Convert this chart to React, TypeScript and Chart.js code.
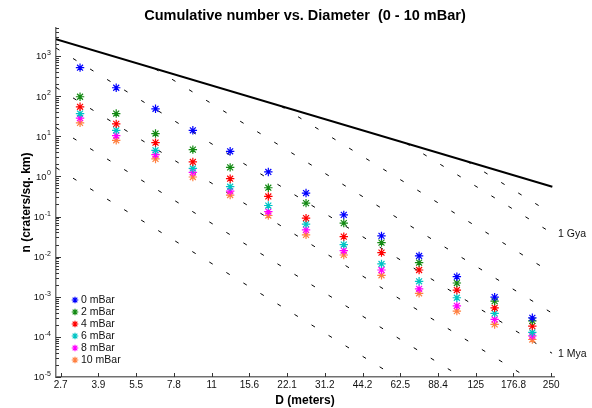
import { useEffect, useRef } from 'react';
import { Chart, registerables } from 'chart.js';

Chart.register(...registerables);

const FONT = '"Liberation Sans", Arial, Helvetica, sans-serif';

// ---- data ----
const diameters = [3.3, 4.6, 6.6, 9.3, 13.1, 18.6, 26.3, 37.2, 52.6, 74.3, 105.1, 148.7, 210.2];

const seriesLabels = ['0 mBar', '2 mBar', '4 mBar', '6 mBar', '8 mBar', '10 mBar'];
const seriesColors = ['#0000ff', '#138a13', '#ff0000', '#00c4c4', '#ff00ff', '#ff8040'];

const n0mBar = [513, 162, 48.4, 14.1, 4.22, 1.29, 0.385, 0.11, 0.0329, 0.0104, 0.00316, 0.00098, 0.000299];
const n2mBar = [96.6, 36.9, 11.7, 4.65, 1.68, 0.522, 0.216, 0.0684, 0.0224, 0.00708, 0.0022, 0.00078, 0.000251];
const n4mBar = [54.3, 20.4, 6.96, 2.29, 0.876, 0.316, 0.0912, 0.0316, 0.0126, 0.00465, 0.00147, 0.000531, 0.000185];
const n6mBar = [36.9, 14.1, 4.47, 1.58, 0.553, 0.188, 0.0646, 0.02, 0.00657, 0.00243, 0.000944, 0.000385, 0.000129];
const n8mBar = [28.2, 10.4, 3.49, 1.26, 0.431, 0.133, 0.0465, 0.0141, 0.00465, 0.00158, 0.000596, 0.000272, 0.000106];
const n10mBar = [21.6, 7.94, 2.72, 0.966, 0.343, 0.106, 0.0349, 0.011, 0.00343, 0.00122, 0.000439, 0.000204, 0.0000861];
const seriesValues = [n0mBar, n2mBar, n4mBar, n6mBar, n8mBar, n10mBar];

// saturation equilibrium (solid black line)
const saturationD = [2.646, 252.6];
const saturationN = [2615, 0.553];

// isochrons (dashed black lines)
const isochronLabels = ['', '1 Gya', '', '', '1 Mya', '', '', ''];
const isochronStartD = [115.5, 66.0, 20.9, 6.57, 2.646, 2.646, 2.646, 2.646];
const isochronStartN = [2.36, 6.65, 56.1, 481, 1585, 165, 16.5, 1.65];
const isochronEndD = [252, 252, 252, 252, 252, 252, 252, 252];
const isochronEndN = [0.1168, 0.0385, 0.00391, 0.000391, 0.0000391, 0.00000407, 0.000000407, 0.0000000407];

// axes
const xTickValues = [2.762, 3.906, 5.524, 7.813, 11.05, 15.63, 22.1, 31.25, 44.19, 62.5, 88.39, 125, 176.78, 250];
const xTickLabels = ['2.7', '3.9', '5.5', '7.8', '11', '15.6', '22.1', '31.2', '44.2', '62.5', '88.4', '125', '176.8', '250'];
const yDecades = [-5, -4, -3, -2, -1, 0, 1, 2, 3];
const xMin = 2.646;
const xMax = 256.5;
const yMin = 1e-5;
const yMax = 5000;

function drawStar(ctx: CanvasRenderingContext2D, x: number, y: number, r: number, color: string, lw: number) {
  ctx.save();
  ctx.strokeStyle = color;
  ctx.lineWidth = lw;
  ctx.beginPath();
  for (let k = 0; k < 4; k++) {
    const a = (k * Math.PI) / 4;
    ctx.moveTo(x - r * Math.cos(a), y - r * Math.sin(a));
    ctx.lineTo(x + r * Math.cos(a), y + r * Math.sin(a));
  }
  ctx.stroke();
  ctx.restore();
}

const decorPlugin = {
  id: 'decor',
  afterDraw(chart: any) {
    const ctx: CanvasRenderingContext2D = chart.ctx;
    const ca = chart.chartArea;
    const xs = chart.scales.x;
    const ys = chart.scales.y;
    ctx.save();
    // x ticks (inward)
    ctx.strokeStyle = '#333';
    ctx.lineWidth = 1;
    ctx.beginPath();
    xTickValues.forEach((v) => {
      const px = Math.round(xs.getPixelForValue(v)) + 0.5;
      ctx.moveTo(px, ca.bottom);
      ctx.lineTo(px, ca.bottom - 4);
    });
    // y ticks (inward, with minor)
    yDecades.forEach((d) => {
      for (let m = 1; m <= 9; m++) {
        const v = m * Math.pow(10, d);
        if (v > yMax) break;
        const py = Math.round(ys.getPixelForValue(v)) + 0.5;
        ctx.moveTo(ca.left, py);
        ctx.lineTo(ca.left + (m === 1 ? 5 : 3), py);
      }
    });
    ctx.stroke();

    // y labels with superscript exponents
    ctx.fillStyle = '#111';
    ctx.textBaseline = 'alphabetic';
    ctx.textAlign = 'left';
    yDecades.forEach((d) => {
      const py = ys.getPixelForValue(Math.pow(10, d));
      const exp = String(d);
      ctx.font = `7px ${FONT}`;
      const we = ctx.measureText(exp).width;
      ctx.font = `9.5px ${FONT}`;
      const wb = ctx.measureText('10').width;
      const right = ca.left - 5;
      const xb = right - we - wb - 0.5;
      ctx.fillText('10', xb, py + 3.4);
      ctx.font = `7px ${FONT}`;
      ctx.fillText(exp, xb + wb + 0.5, py - 1);
    });

    // legend
    ctx.font = `10.5px ${FONT}`;
    ctx.textBaseline = 'middle';
    seriesLabels.forEach((lab, i) => {
      const y = ca.bottom - 77 + 12 * i;
      drawStar(ctx, ca.left + 19, y, 3.3, seriesColors[i], 1.2);
      ctx.fillStyle = '#111';
      ctx.fillText(lab, ca.left + 25, y);
    });

    // isochron labels at right
    isochronLabels.forEach((lab, i) => {
      if (!lab) return;
      const meta = chart.getDatasetMeta(seriesLabels.length + 1 + i);
      const pt = meta.data[meta.data.length - 1];
      ctx.fillStyle = '#111';
      ctx.fillText(lab, ca.right + 4, pt.y + 1);
    });
    ctx.restore();
  },
};

export default function App() {
  const ref = useRef<HTMLCanvasElement | null>(null);
  useEffect(() => {
    if (!ref.current) return;
    const datasets: any[] = [];
    seriesLabels.forEach((lab, i) => {
      datasets.push({
        label: lab,
        data: diameters.map((d, j) => ({ x: d, y: seriesValues[i][j] })),
        pointStyle: 'star',
        pointRadius: 4.2,
        borderWidth: 1.2,
        borderColor: seriesColors[i],
        backgroundColor: seriesColors[i],
        showLine: false,
      });
    });
    datasets.push({
      label: 'saturation',
      data: saturationD.map((d, j) => ({ x: d, y: saturationN[j] })),
      showLine: true,
      borderColor: '#000',
      borderWidth: 2,
      pointRadius: 0,
    });
    isochronLabels.forEach((lab, i) => {
      datasets.push({
        label: 'iso' + i,
        data: [
          { x: isochronStartD[i], y: isochronStartN[i] },
          { x: isochronEndD[i], y: isochronEndN[i] },
        ],
        showLine: true,
        borderColor: '#000',
        borderWidth: 1,
        borderDash: [4, 16],
        pointRadius: 0,
      });
    });

    const chart = new Chart(ref.current, {
      type: 'scatter',
      data: { datasets },
      plugins: [decorPlugin],
      options: {
        animation: false,
        responsive: false,
        maintainAspectRatio: false,
        events: [],
        layout: { padding: { left: 0, right: 38, top: 0, bottom: 0 } },
        plugins: {
          legend: { display: false },
          tooltip: { enabled: false },
          title: {
            display: true,
            fullSize: false,
            text: 'Cumulative number vs. Diameter  (0 - 10 mBar)',
            color: '#000',
            font: { family: FONT, size: 14.5, weight: 'bold' },
            padding: { top: 7.5, bottom: 3.1 },
          },
        },
        scales: {
          x: {
            type: 'logarithmic',
            position: 'bottom',
            min: xMin,
            max: xMax,
            grid: { display: false, drawTicks: false },
            border: { display: true, color: '#707070', width: 1.5 },
            ticks: {
              autoSkip: false,
              maxRotation: 0,
              padding: 2,
              color: '#111',
              font: { family: FONT, size: 10 },
              callback: (_v: any, i: number) => xTickLabels[i] ?? '',
            },
            afterBuildTicks: (s: any) => {
              s.ticks = xTickValues.map((v) => ({ value: v }));
            },
            afterFit: (s: any) => {
              s.height = 31;
            },
            title: {
              display: true,
              text: 'D (meters)',
              color: '#000',
              font: { family: FONT, size: 12, weight: 'bold' },
              padding: { top: 0, bottom: 0 },
            },
          },
          y: {
            type: 'logarithmic',
            min: yMin,
            max: yMax,
            grid: { display: false, drawTicks: false },
            border: { display: true, color: '#707070', width: 1.5 },
            ticks: { display: false },
            afterFit: (s: any) => {
              s.width = 56;
            },
            title: {
              display: true,
              text: 'n (craters/sq. km)',
              color: '#000',
              font: { family: FONT, size: 12, weight: 'bold' },
              padding: { top: 19, bottom: 0 },
            },
          },
        },
      } as any,
    });
    return () => chart.destroy();
  }, []);
  return (
    <div style={{ position: 'absolute', left: 0, top: 0, width: 592, height: 408 }}>
      <canvas ref={ref} width={592} height={408} style={{ display: 'block', width: 592, height: 408 }} />
    </div>
  );
}
